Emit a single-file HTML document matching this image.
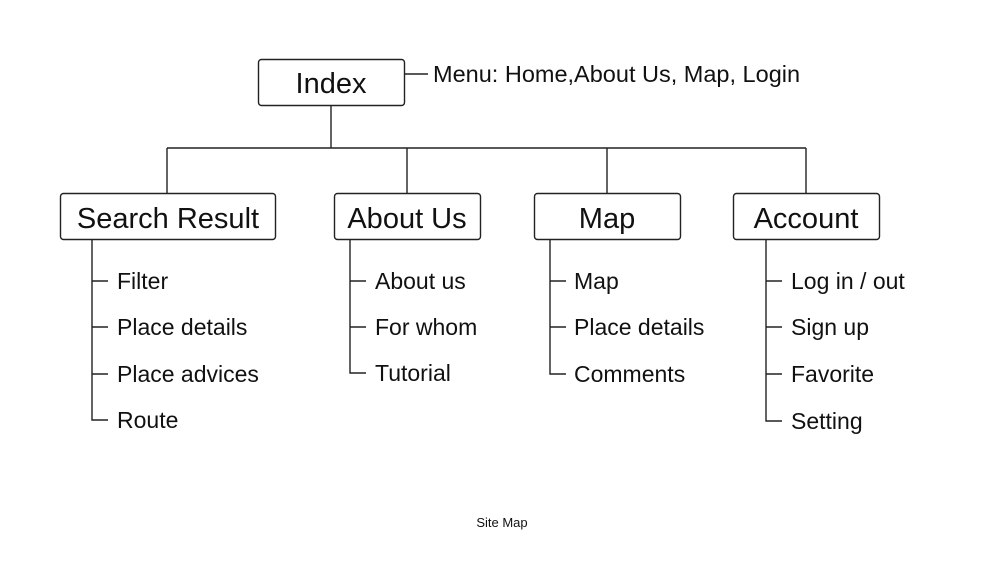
<!DOCTYPE html>
<html><head><style>
body{margin:0;background:#fff;}
svg text{font-family:"Liberation Sans",sans-serif;fill:#111;}
</style></head><body>
<svg width="1004" height="556" viewBox="0 0 1004 556" xmlns="http://www.w3.org/2000/svg">
<g stroke="#222" stroke-width="1.4" fill="none">
<rect x="258.5" y="59.5" width="146" height="46" rx="3"/>
<rect x="60.5" y="193.5" width="215" height="46" rx="3"/>
<rect x="334.5" y="193.5" width="146" height="46" rx="3"/>
<rect x="534.5" y="193.5" width="146" height="46" rx="3"/>
<rect x="733.5" y="193.5" width="146" height="46" rx="3"/>
<path d="M404 74H428M331 106V148M167 148H806M167 148V193M407 148V193M607 148V193M806 148V193"/>
<path d="M92 240V420H108M92 281H108M92 327H108M92 374H108"/>
<path d="M350 240V373H366M350 281H366M350 327H366"/>
<path d="M550 240V374H566M550 281H566M550 327H566"/>
<path d="M766 240V421H782M766 281H782M766 327H782M766 374H782"/>
</g>
<g font-size="29" text-anchor="middle">
<text x="331" y="93">Index</text>
<text x="168" y="228">Search Result</text>
<text x="407" y="228">About Us</text>
<text x="607" y="228">Map</text>
<text x="806" y="228">Account</text>
</g>
<text x="433" y="82" font-size="23.5">Menu: Home,About Us, Map, Login</text>
<g font-size="23">
<text x="117" y="289">Filter</text><text x="117" y="335">Place details</text><text x="117" y="382">Place advices</text><text x="117" y="428">Route</text>
<text x="375" y="289">About us</text><text x="375" y="335">For whom</text><text x="375" y="381">Tutorial</text>
<text x="574" y="289">Map</text><text x="574" y="335">Place details</text><text x="574" y="382">Comments</text>
<text x="791" y="289">Log in / out</text><text x="791" y="335">Sign up</text><text x="791" y="382">Favorite</text><text x="791" y="429">Setting</text>
</g>
<text x="502" y="527" font-size="13" text-anchor="middle">Site Map</text>
</svg>
</body></html>
